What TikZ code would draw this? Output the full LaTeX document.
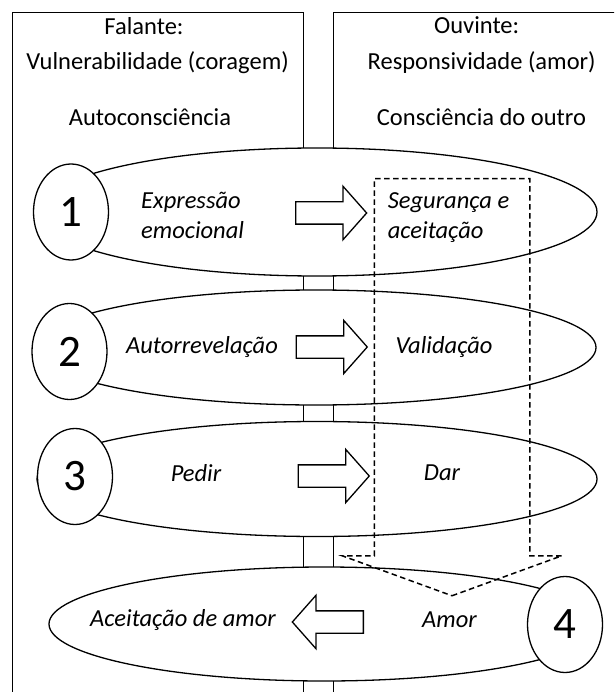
\documentclass[tikz,border=0pt]{standalone}
\usepackage{fontspec}
\setmainfont{Carlito}
\usetikzlibrary{shapes.geometric,shapes.arrows,positioning}

\begin{document}
\begin{tikzpicture}[
    x=1pt, y=-1pt,
    panel/.style={rectangle, draw, line width=1.2pt, anchor=north west, inner sep=0pt},
    header/.style={anchor=base, inner sep=0pt, font=\fontsize{24.5}{35}\selectfont},
    bubble/.style={ellipse, draw, fill=white, line width=1.3pt, inner sep=0pt, minimum width=560pt},
    badge/.style={ellipse, draw, fill=white, line width=1.3pt, inner sep=0pt, minimum width=75pt, minimum height=96pt, font=\fontsize{45}{45}\selectfont},
    talk/.style={inner sep=0pt, font=\fontsize{24.5}{30}\selectfont\itshape},
    blockarrow/.style={single arrow, draw, line width=1.3pt, inner xsep=0pt, inner ysep=10.5pt, anchor=tail,
        minimum height=71pt, single arrow head extend=15.5pt, single arrow tip angle=97},
    bigarrow/.style={single arrow, draw, dashed, dash pattern=on 5.5pt off 3.5pt, line width=1.5pt, inner xsep=0pt, inner ysep=77pt, anchor=tail,
        minimum height=417pt, single arrow head extend=32pt, single arrow tip angle=140}
]

\path[use as bounding box] (0,0) rectangle (614,692);
\clip (0,0) rectangle (614,692);

% Speaker and listener columns
\node[panel, minimum width=291pt, minimum height=760pt] (speaker) at (12,12) {};
\node[panel, minimum width=297pt, minimum height=760pt] (listener) at (333,12) {};

\node[header] (speaker_role) at (144,34.5) {Falante:};
\node[header] (speaker_trait) at (157.6,69.5) {Vulnerabilidade (coragem)};
\node[header] (speaker_focus) at (150,126) {Autoconsciência};

\node[header] (listener_role) at (476.7,33.5) {Ouvinte:};
\node[header] (listener_trait) at (481.7,69.5) {Responsividade (amor)};
\node[header] (listener_focus) at (481.5,126) {Consciência do outro};

% Steps
\node[bubble, minimum height=128pt] (step1) at (317,212) {};
\node[bubble, minimum height=115pt] (step2) at (316,347.5) {};
\node[bubble, minimum height=115pt] (step3) at (317,479) {};
\node[bubble, minimum width=551pt, minimum height=114pt] (step4) at (324.5,624) {};

% Numbers
\node[badge] (num1) at (71,212) {1};
\node[badge] (num2) at (69.5,351.5) {2};
\node[badge] (num3) at (75,476.5) {3};
\node[badge] (num4) at (565,624.5) {4};

% Step 1
\node[talk, align=left, anchor=west] (express) at (141,215) {Expressão\\emocional};
\node[blockarrow] (arrow1) at (295,213) {};
\node[talk, align=left, anchor=west] (safety) at (387.6,218) {Segurança e\\aceitação};

% Step 2
\node[talk] (disclose) at (202,347) {Autorrevelação};
\node[blockarrow] (arrow2) at (295.6,347) {};
\node[talk] (validate) at (444,347) {Validação};

% Step 3
\node[talk] (ask) at (196,473) {Pedir};
\node[blockarrow] (arrow3) at (297.6,476) {};
\node[talk] (give) at (442,473) {Dar};

% Step 4
\node[talk] (accept) at (183,620) {Aceitação de amor};
\node[blockarrow, rotate=180] (arrow4) at (364,622) {};
\node[talk] (love) at (449.5,620) {Amor};

% Listener flow
\node[bigarrow, rotate=-90] (flow) at (452,178) {};

\end{tikzpicture}
\end{document}
